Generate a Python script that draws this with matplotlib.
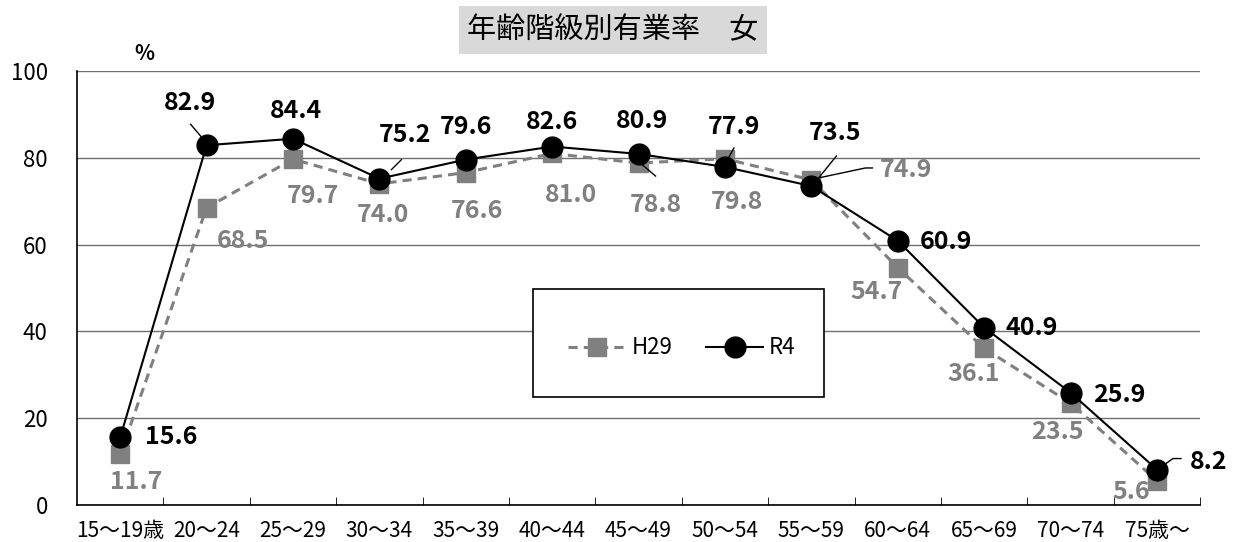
"""Age-group employment rate (female), H29 vs R4."""

import matplotlib

matplotlib.use("Agg")
import matplotlib.pyplot as plt
from matplotlib.lines import Line2D
from matplotlib.patches import Rectangle
from matplotlib.transforms import IdentityTransform
import numpy as np

plt.rcParams["font.family"] = ["Noto Sans CJK JP", "DejaVu Sans"]

categories = ["15～19歳", "20～24", "25～29", "30～34", "35～39", "40～44", "45～49",
              "50～54", "55～59", "60～64", "65～69", "70～74", "75歳～"]
h29 = [11.7, 68.5, 79.7, 74.0, 76.6, 81.0, 78.8, 79.8, 74.9, 54.7, 36.1, 23.5, 5.6]
r4 = [15.6, 82.9, 84.4, 75.2, 79.6, 82.6, 80.9, 77.9, 73.5, 60.9, 40.9, 25.9, 8.2]

# label centre offsets in pixels (dx, dy up) from each point
r4_offsets = [(51, 0), (-17, 42), (3, 28), (26, 44), (0, 33), (0, 25), (3, 33),
              (9, 40), (24, 53), (48, -1), (48, 0), (49, -2), (52, 8)]
h29_offsets = [(16, -28), (36, -33), (20, -37), (4, -31), (11, -38), (19, -42), (17, -42),
               (12, -43), (95, 10), (-21, -24), (-11, -26), (-13, -29), (-26, -11)]
# leader lines: index -> pixel vertices relative to the point
r4_leaders = {1: [(-16, 21), (-5, 8)], 3: [(22, 19), (12, 9)], 7: [(9, 19), (4, 10)],
              8: [(25, 30), (8, 9)], 12: [(24, 11), (16, 11), (9, 6)]}
h29_leaders = {6: [(17, -13), (4, -2)], 8: [(61, 12), (54, 12), (7, 2)]}

BLACK = "#000000"
GREY = "#808080"

fig = plt.figure(figsize=(12.36, 5.42), dpi=100)
ax = fig.add_axes([0.0623, 0.068, 0.9087, 0.801])

x = np.arange(len(categories))
ax.plot(x, h29, color=GREY, lw=2.2, ls=(0, (3, 2)), marker="s", ms=12.5,
        mfc=GREY, mec=GREY, label="H29", zorder=3)
ax.plot(x, r4, color=BLACK, lw=1.5, marker="o", ms=15, mfc=BLACK, mec=BLACK,
        label="R4", zorder=4)

ax.set_xlim(-0.5, len(categories) - 0.5)
ax.set_ylim(0, 100)


def add_labels(values, offsets, leaders, color):
    for i, (xi, v, (dx, dy)) in enumerate(zip(x, values, offsets)):
        ax.annotate(f"{v:.1f}", (xi, v), xytext=(dx, dy), textcoords="offset pixels",
                    ha="center", va="center", fontsize=18, fontweight="bold",
                    color=color, zorder=6)
        if i in leaders:
            px, py = ax.transData.transform((xi, v))
            xs = [px + ox for ox, oy in leaders[i]]
            ys = [py + oy for ox, oy in leaders[i]]
            fig.add_artist(Line2D(xs, ys, transform=IdentityTransform(), color=BLACK,
                                  lw=1.0, zorder=6))


add_labels(r4, r4_offsets, r4_leaders, BLACK)
add_labels(h29, h29_offsets, h29_leaders, GREY)

ax.set_yticks(np.arange(0, 101, 20))
ax.set_xticks(x)
ax.set_xticklabels(categories, fontsize=15)
ax.set_xticks(np.arange(0.5, len(categories), 1), minor=True)
ax.tick_params(axis="x", which="major", length=0, pad=11)
ax.tick_params(axis="x", which="minor", direction="in", length=6, color=BLACK)
ax.tick_params(axis="y", length=0, pad=21, labelsize=16)
ax.yaxis.grid(True, color="#707070", lw=1.0)
ax.set_axisbelow(True)
for side in ["top", "right"]:
    ax.spines[side].set_visible(False)
for side in ["left", "bottom"]:
    ax.spines[side].set_color(BLACK)
    ax.spines[side].set_linewidth(1.2)

# legend box
ax.add_patch(Rectangle((0.406, 0.249), 0.259, 0.249, transform=ax.transAxes,
                       facecolor="white", edgecolor=BLACK, lw=1.2, zorder=5))
leg = ax.legend(loc="center", bbox_to_anchor=(0.5385, 0.362), ncol=2, frameon=False,
                fontsize=16, handlelength=2.6, columnspacing=1.5, handletextpad=0.25)
leg.set_zorder(6)

fig.text(0.1165, 0.902, "%", fontsize=15, fontweight="bold", ha="center", va="center")
fig.text(0.496, 0.945, "年齢階級別有業率　女", fontsize=21, ha="center", va="center",
         bbox=dict(boxstyle="square,pad=0.3", facecolor="#d9d9d9", edgecolor="none"))

fig.savefig("out.png", dpi=100)
